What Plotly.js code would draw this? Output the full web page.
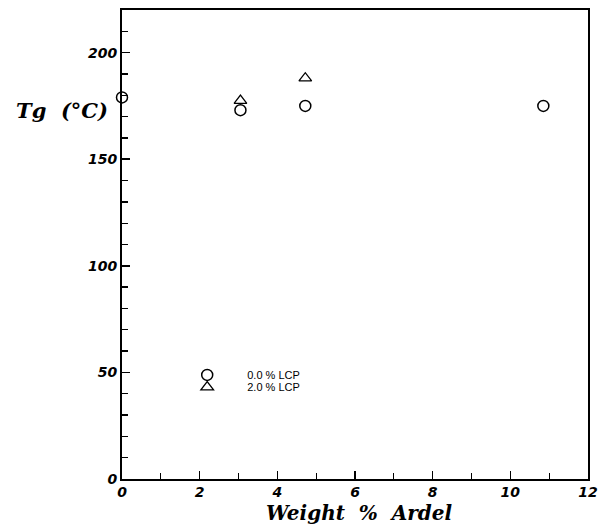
<!DOCTYPE html>
<html>
<head>
<meta charset="utf-8">
<script src="https://cdn.plot.ly/plotly-3.0.1.min.js"></script>
<style>html,body{margin:0;padding:0;background:#fff;}#chart{width:599px;height:524px;}</style>
</head>
<body>
<div id="chart"></div>
<script>
const lcp0_x = [0, 3.05, 4.72, 10.85];
const lcp0_y = [179, 173, 175, 175];
const lcp2_x = [3.05, 4.72];
const lcp2_y = [177.5, 188];
const seriesNames = ["0.0 % LCP", "2.0 % LCP"];
const xTicks = [0, 2, 4, 6, 8, 10, 12];
const yTicks = [0, 50, 100, 150, 200];

const tickFont = {family: "DejaVu Sans, Liberation Sans, sans-serif", size: 14, color: "#000", weight: "bold", style: "italic"};
const titleFont = {family: "DejaVu Serif, Liberation Serif, serif", size: 20, color: "#000", style: "italic", weight: "bold"};
const legendFont = {family: "Liberation Sans, Arial, sans-serif", size: 11, color: "#000"};

const traces = [
  {x: lcp0_x, y: lcp0_y, name: seriesNames[0], mode: "markers", type: "scatter", legend: "legend",
   marker: {symbol: "circle-open", size: 11, color: "#000", line: {width: 1.5, color: "#000"}}, cliponaxis: false},
  {x: lcp2_x, y: lcp2_y, name: seriesNames[1], mode: "markers", type: "scatter", legend: "legend2",
   marker: {symbol: "triangle-up-open", size: 11, color: "#000", line: {width: 1.3, color: "#000"}}, cliponaxis: false}
];

const legendBase = {xref: "paper", yref: "paper", xanchor: "left", yanchor: "middle", bgcolor: "rgba(0,0,0,0)",
  font: legendFont, itemwidth: 70, borderwidth: 0};

const layout = {
  width: 599, height: 524,
  margin: {l: 122, r: 11, t: 10, b: 45},
  paper_bgcolor: "#fff", plot_bgcolor: "#fff",
  showlegend: true,
  legend: Object.assign({}, legendBase, {x: 0.097, y: 0.222}),
  legend2: Object.assign({}, legendBase, {x: 0.097, y: 0.196}),
  xaxis: {range: [0, 12], tickvals: xTicks, ticktext: xTicks.map(String),
          ticks: "inside", ticklen: 8, tickwidth: 1.5, tickcolor: "#000",
          minor: {dtick: 1, ticks: "inside", ticklen: 6, tickwidth: 1.3, tickcolor: "#000", showgrid: false},
          showline: true, linewidth: 2, linecolor: "#000", mirror: true, showgrid: false, zeroline: false,
          tickfont: tickFont, ticklabelstandoff: -1},
  yaxis: {range: [0, 220], tickvals: yTicks, ticktext: yTicks.map(String),
          ticks: "inside", ticklen: 8, tickwidth: 1.5, tickcolor: "#000",
          minor: {dtick: 10, ticks: "inside", ticklen: 6, tickwidth: 1.3, tickcolor: "#000", showgrid: false},
          showline: true, linewidth: 2, linecolor: "#000", mirror: true, showgrid: false, zeroline: false,
          tickfont: tickFont},
  annotations: [
    {text: "Tg&nbsp;&nbsp;(°C)", xref: "paper", yref: "paper", x: -0.025, y: 0.785, xanchor: "right", yanchor: "middle",
     showarrow: false, font: {family: titleFont.family, size: 21, color: "#000", style: "italic", weight: "bold"}},
    {text: "Weight&nbsp;&nbsp;%&nbsp;&nbsp;Ardel", xref: "paper", yref: "paper", x: 0.51, y: -0.073, xanchor: "center", yanchor: "middle",
     showarrow: false, font: titleFont}
  ]
};

Plotly.newPlot("chart", traces, layout, {displayModeBar: false, staticPlot: true});
</script>
</body>
</html>
